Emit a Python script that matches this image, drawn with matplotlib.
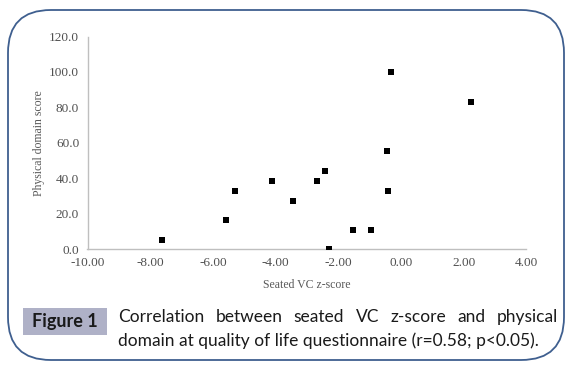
import matplotlib
matplotlib.use("Agg")
import matplotlib.pyplot as plt
from matplotlib.patches import FancyBboxPatch, Rectangle

# Data
vc_z = [-7.63, -5.58, -5.30, -4.11, -3.45, -2.68, -2.42, -2.31, -1.53, -0.97, -0.45, -0.42, -0.33, 2.23]
phys = [5.0, 16.4, 33.0, 38.6, 27.3, 38.6, 44.2, 0.0, 10.7, 10.7, 55.4, 33.0, 100.0, 83.2]
xticks = [-10, -8, -6, -4, -2, 0, 2, 4]
yticks = [0, 20, 40, 60, 80, 100, 120]
x_label = "Seated VC z-score"
y_label = "Physical domain score"
fig_tag = "Figure 1"
caption1 = "Correlation between seated VC z-score and physical"
caption2 = "domain at quality of life questionnaire (r=0.58; p<0.05)."

W, H = 572, 368
fig = plt.figure(figsize=(W / 100, H / 100), dpi=100)

def fx(px):
    return px / W

def fy(py):
    return 1 - py / H

# rounded frame
frame = FancyBboxPatch((fx(8), fy(360)), fx(564) - fx(8), fy(10) - fy(360),
                       boxstyle="round,pad=0,rounding_size=0.075",
                       transform=fig.transFigure, fill=False,
                       edgecolor="#3f5f8f", linewidth=1.3,
                       mutation_aspect=W / H)
fig.patches.append(frame)

ax = fig.add_axes([fx(87.5), fy(249), fx(526.4) - fx(87.5), fy(36.6) - fy(249)])
ax.scatter(vc_z, phys, marker="s", s=20, color="black", zorder=3, linewidths=0)
ax.set_xlim(-10, 4)
ax.set_ylim(0, 120)
ax.set_xticks(xticks)
ax.set_yticks(yticks)
ax.set_xticklabels([f"{v:.2f}" for v in xticks])
ax.set_yticklabels([f"{v:.1f}" for v in yticks])
for s in ["top", "right"]:
    ax.spines[s].set_visible(False)
for s in ["left", "bottom"]:
    ax.spines[s].set_color("#bfbfbf")
    ax.spines[s].set_linewidth(1.0)
ax.tick_params(length=0, labelsize=9.5, labelcolor="#505050", pad=6)
for lab in ax.get_xticklabels() + ax.get_yticklabels():
    lab.set_fontfamily("Liberation Serif")
ax.set_xlabel(x_label, fontsize=8.5, color="#595959", family="Liberation Serif", labelpad=7)
ax.set_ylabel(y_label, fontsize=8.5, color="#595959", family="Liberation Serif", labelpad=3)

# Figure tag box
fig.patches.append(Rectangle((fx(23), fy(335)), fx(107) - fx(23), fy(308) - fy(335),
                             transform=fig.transFigure, facecolor="#afb1c7",
                             edgecolor="none"))
fig.text(fx(65), fy(321.5), fig_tag, ha="center", va="center", fontsize=13,
         fontweight="bold", family="Lato", color="#1a1a1a")

# Caption, line 1 justified
cap_kw = dict(fontsize=12.5, family="Lato", color="#1a1a1a", va="center")
x0, x1 = 118, 558
fig.canvas.draw()
r = fig.canvas.get_renderer()
words = caption1.split(" ")
texts = [fig.text(0, fy(317), w, **cap_kw) for w in words]
widths = [t.get_window_extent(r).width for t in texts]
gap = ((x1 - x0) - sum(widths)) / (len(words) - 1)
pos = x0
for t, w in zip(texts, widths):
    t.set_x(fx(pos))
    pos += w + gap
fig.text(fx(x0), fy(341), caption2, **cap_kw)

fig.savefig("out.png", dpi=100)
